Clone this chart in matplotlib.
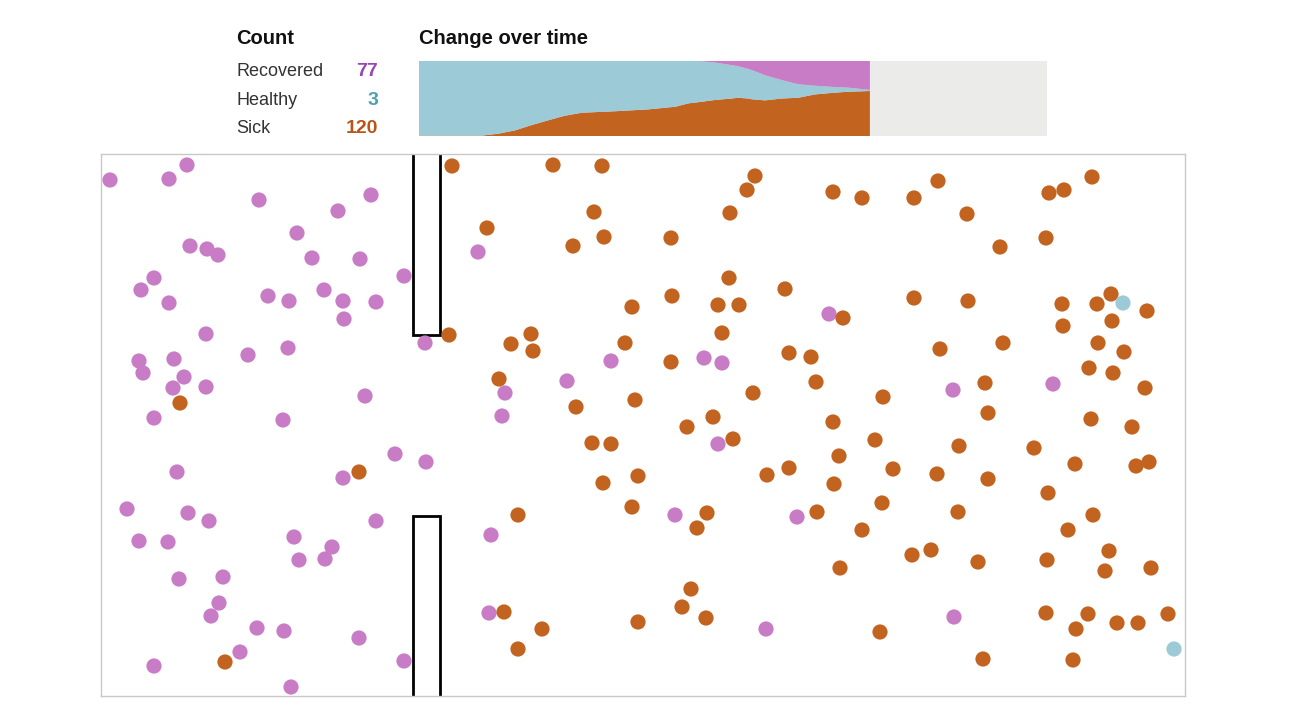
import numpy as np
import matplotlib
matplotlib.use("Agg")
import matplotlib.pyplot as plt

plt.rcParams['font.family'] = ['Liberation Sans', 'DejaVu Sans']

# Colores
C_SICK = "#c2641f"
C_HEALTHY = "#9ccad6"
C_RECOV = "#c87cc6"
C_SICK_TXT = "#b8561a"
C_HEALTHY_TXT = "#4fa0ad"
C_RECOV_TXT = "#9845b4"

# Conteos actuales
labels = ["Recovered", "Healthy", "Sick"]
counts = [77, 3, 120]

# Evolución en el tiempo (día, enfermos, recuperados) de 200 personas
total = 200
days_total = 100
days = [0, 10, 12.6, 15.3, 17.9, 20.6, 23.2, 25.9, 28.5, 31.2, 36.5, 40.8, 42.9,
        44.4, 47.1, 49.8, 50.8, 52.4, 53.0, 55.1, 57.8, 60.4, 63.1, 65.8, 68.3, 71.8]
sick_t = [1, 1, 6, 15, 29, 42, 54, 62, 64, 66, 71, 78, 87,
          90, 96, 100, 102, 100, 98, 95, 100, 102, 111, 115, 118, 120]
recov_t = [0, 0, 0, 0, 0, 0, 0, 0, 0, 0, 0, 0, 0,
           0, 4, 11, 14, 21, 24, 38, 51, 62, 66, 69, 71, 77]

# Posiciones de las personas en la caja (mismas unidades que el mundo)
recovered_xy = [
    (110, 180), (187, 165), (169, 179), (259, 200), (371, 195), (338, 211), (297, 233),
    (190, 246), (207, 249), (218, 255), (312, 258), (360, 259), (404, 276), (154, 278),
    (141, 290), (169, 303), (268, 296), (289, 301), (324, 290), (343, 301), (376, 302),
    (344, 319), (206, 334), (288, 348), (248, 355), (425, 343), (139, 361), (143, 373),
    (174, 359), (184, 377), (173, 388), (206, 387), (365, 396), (154, 418), (283, 420),
    (395, 454), (426, 462), (177, 472), (343, 478), (127, 509), (188, 513), (209, 521),
    (376, 521), (139, 541), (168, 542), (294, 537), (332, 547), (299, 560), (325, 559),
    (179, 579), (223, 577), (219, 603), (211, 616), (257, 628), (284, 631), (359, 638),
    (240, 652), (154, 666), (404, 661), (291, 687),
    (478, 252), (611, 361), (704, 358), (722, 363), (505, 393), (567, 381), (502, 416),
    (718, 444), (491, 535), (675, 515), (797, 517), (489, 613), (766, 629),
    (829, 314), (953, 390), (1053, 384), (954, 617),
]
sick_xy = [
    (180, 403), (359, 472), (225, 662), (452, 166), (449, 335),
    (553, 165), (602, 166), (755, 176), (747, 190), (730, 213), (594, 212), (487, 228),
    (604, 237), (573, 246), (671, 238), (729, 278), (785, 289), (672, 296), (632, 307),
    (718, 305), (739, 305), (531, 334), (511, 344), (533, 351), (625, 343), (722, 333),
    (671, 362), (789, 353), (811, 357), (816, 382), (499, 379), (635, 400), (576, 407),
    (753, 393), (713, 417), (687, 427),
    (592, 443), (611, 444), (733, 439), (603, 483), (638, 476), (767, 475), (789, 468),
    (518, 515), (632, 507), (707, 513), (697, 528), (817, 512), (691, 589), (682, 607),
    (706, 618), (638, 622), (504, 612), (542, 629), (518, 649),
    (833, 192), (862, 198), (938, 181), (914, 198), (967, 214), (1049, 193), (1064, 190),
    (1092, 177), (1000, 247), (1046, 238), (914, 298), (968, 301), (843, 318), (1062, 304),
    (1097, 304), (1111, 294), (1147, 311), (1063, 326), (1112, 321), (940, 349), (1003, 343),
    (1098, 343), (1124, 352), (1089, 368), (1113, 373), (1145, 388), (883, 397), (985, 383),
    (988, 413), (833, 422), (1091, 419), (1132, 427),
    (875, 440), (959, 446), (1034, 448), (839, 456), (893, 469), (937, 474), (988, 479),
    (1075, 464), (1136, 466), (1149, 462), (834, 484), (882, 503), (958, 512),
    (1048, 493), (1093, 515), (862, 530), (1068, 530), (912, 555), (931, 550), (978, 562),
    (1047, 560), (1109, 551), (1105, 571), (1151, 568), (840, 568), (880, 632), (1046, 613),
    (1088, 614), (1076, 629), (1117, 623), (1138, 623), (1168, 614), (983, 659), (1073, 660),
]
healthy_xy = [(1123, 303), (1174, 649)]

# Límites del mundo y de las paredes
world = (101, 1185, 154, 696)
wall_x = (413, 440)
gap = (335, 516)

W, H = 1290, 709
fig = plt.figure(figsize=(W / 100, H / 100), dpi=100)


def px_axes(l, t, r, b):
    return fig.add_axes([l / W, 1 - b / H, (r - l) / W, (b - t) / H])


# --- Caja de la simulación ---
ax = px_axes(101, 154, 1185, 696)
ax.set_xlim(world[0], world[1])
ax.set_ylim(world[3], world[2])
ax.set_xticks([])
ax.set_yticks([])
for s in ax.spines.values():
    s.set_color("#c8c8c8")
    s.set_linewidth(1)

x0, x1 = wall_x
ax.plot([x0, x0, x1, x1], [world[2], gap[0], gap[0], world[2]], color="black", lw=2,
        solid_joinstyle="miter")
ax.plot([x0, x0, x1, x1], [world[3], gap[1], gap[1], world[3]], color="black", lw=2,
        solid_joinstyle="miter")

dot_s = 120
for pts, col in [(recovered_xy, C_RECOV), (sick_xy, C_SICK), (healthy_xy, C_HEALTHY)]:
    arr = np.array(pts)
    ax.scatter(arr[:, 0], arr[:, 1], s=dot_s, color=col, edgecolors="none", zorder=3)

# --- Evolución en el tiempo ---
ax2 = px_axes(419, 61, 1047, 136)
ax2.set_facecolor("#ebebe9")
days = np.array(days)
sick_t = np.array(sick_t)
recov_t = np.array(recov_t)
healthy_t = total - sick_t - recov_t
ax2.stackplot(days, sick_t, healthy_t, recov_t, colors=[C_SICK, C_HEALTHY, C_RECOV], lw=0)
ax2.set_xlim(0, days_total)
ax2.set_ylim(0, total)
ax2.set_xticks([])
ax2.set_yticks([])
for s in ax2.spines.values():
    s.set_visible(False)

fig.text(236 / W, 1 - 44 / H, "Count", fontsize=14.5, fontweight="bold", color="#111111")
fig.text(419 / W, 1 - 44 / H, "Change over time", fontsize=14.5, fontweight="bold",
         color="#111111")

ybase = [76, 105, 133]
num_cols = [C_RECOV_TXT, C_HEALTHY_TXT, C_SICK_TXT]
for lab, n, yb, col in zip(labels, counts, ybase, num_cols):
    fig.text(236 / W, 1 - yb / H, lab, fontsize=13, color="#333333")
    fig.text(378 / W, 1 - yb / H, str(n), fontsize=14, fontweight="bold", color=col,
             ha="right")

fig.savefig("out.png", dpi=100)
